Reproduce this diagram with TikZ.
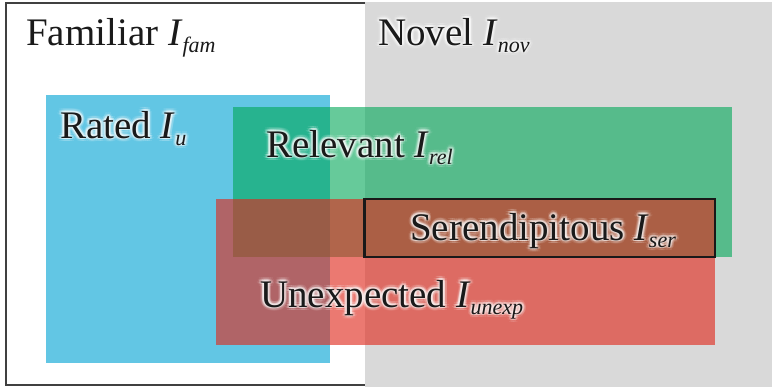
\documentclass[tikz,border=0pt]{standalone}
\usepackage{fontspec}
\setmainfont{Liberation Serif}
\definecolor{outline}{HTML}{404040}
\definecolor{novelgray}{HTML}{D9D9D9}
\definecolor{ratedblue}{HTML}{62C6E4}
\definecolor{relgreen}{RGB}{0,167,87}
\definecolor{unexred}{RGB}{224,40,27}
\definecolor{txt}{HTML}{1A1A1A}
\newcommand{\subtxt}[1]{\raisebox{-7pt}{\fontsize{22}{24}\selectfont\itshape #1}}
\newcommand{\setname}[2]{#1 \textit{I}\subtxt{#2}}
\newcommand{\glowlabel}[3]{%
  \foreach \a in {0,30,...,330}{\node[halo, text opacity=0.10, shift={(\a:3.6)}] at (#2) {#3};}
  \foreach \a in {15,45,...,345}{\node[halo, text opacity=0.22, shift={(\a:2.0)}] at (#2) {#3};}
  \node[lbl] (#1) at (#2) {#3};}
\begin{document}
\begin{tikzpicture}[x=1pt,y=-1pt,
  lbl/.style={anchor=base west, inner sep=0pt, font=\fontsize{39}{44}\selectfont, text=txt},
  halo/.style={lbl, text=white}]
\useasboundingbox (0,0) rectangle (772,389);
\fill[white] (0,0) rectangle (772,389);
% familiar (outer frame) and novel region
\draw[draw=outline, line width=1.5pt, fill=white] (6,3) rectangle (770,385);
\fill[novelgray] (365,2) rectangle (772,387);
% rated, relevant, unexpected
\fill[ratedblue] (46,95) rectangle (330,363);
\fill[relgreen, opacity=0.6] (233,107) rectangle (732,257);
\fill[unexred, opacity=0.62] (216,199) rectangle (715,345);
% serendipitous box
\draw[black!90, line width=2.2pt] (364.5,199) rectangle (715,257);
% labels
\coordinate (pfam) at (26,45);
\coordinate (pnov) at (378,45);
\coordinate (prat) at (60,138);
\coordinate (prel) at (266,157);
\coordinate (pser) at (410,240);
\coordinate (punx) at (260,307);
\glowlabel{fam}{pfam}{\setname{Familiar}{fam}}
\glowlabel{nov}{pnov}{\setname{Novel}{nov}}
\glowlabel{rat}{prat}{\setname{Rated}{u}}
\glowlabel{rel}{prel}{\setname{Relevant}{rel}}
\glowlabel{ser}{pser}{\setname{Serendipitous}{ser}}
\glowlabel{unx}{punx}{\setname{Unexpected}{unexp}}
\end{tikzpicture}
\end{document}
